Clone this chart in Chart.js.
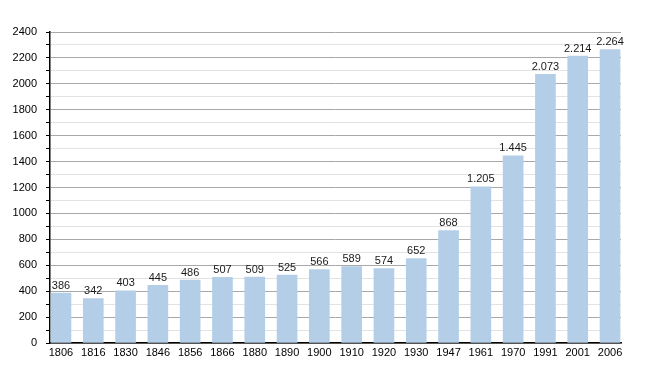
<!DOCTYPE html>
<html>
<head>
<meta charset="utf-8">
<script src="https://cdn.jsdelivr.net/npm/chart.js@4"></script>
<style>
  html, body { margin: 0; padding: 0; background: #fff; }
  #wrap { width: 650px; height: 373px; }
</style>
</head>
<body>
<div id="wrap"><canvas id="popChart" width="650" height="373"></canvas></div>
<script>
var years = ['1806','1816','1830','1846','1856','1866','1880','1890','1900','1910','1920','1930','1947','1961','1970','1991','2001','2006'];
var population = [386, 342, 403, 445, 486, 507, 509, 525, 566, 589, 574, 652, 868, 1205, 1445, 2073, 2214, 2264];
var yTickMax = 2400;
var yTickStep = 100;

function fmt_num(v) {
  // thousands with a dot, like the original
  return String(v).replace(/\B(?=(\d{3})+(?!\d))/g, '.');
}

var points = [];
for (let i = 0; i < years.length; i++) {
  points.push({x: i, y: population[i]});
}

const valueLabels = {
  id: 'valueLabels',
  afterDatasetsDraw(chart) {
    const ctx = chart.ctx;
    const meta = chart.getDatasetMeta(0);
    ctx.save();
    ctx.font = '11px "Liberation Sans", Arial, sans-serif';
    ctx.fillStyle = '#1a1a1a';
    ctx.textAlign = 'center';
    ctx.textBaseline = 'bottom';
    meta.data.forEach(function(bar, i) {
      ctx.fillText(fmt_num(population[i]), bar.x, bar.y - 2);
    });
    ctx.restore();
  }
};

const config = {
  type: 'bar',
  data: {
    datasets: [{
      data: points,
      backgroundColor: 'rgb(180, 206, 232)',
      borderWidth: 0,
      barThickness: 20
    }]
  },
  options: {
    responsive: false,
    animation: false,
    layout: { padding: { top: 32, right: 29, left: 0, bottom: 0 } },
    plugins: { legend: { display: false }, tooltip: { enabled: false } },
    scales: {
      x: {
        type: 'linear',
        min: -0.34,
        max: 17.34,
        offset: false,
        grid: { display: false, drawTicks: false, tickLength: 0 },
        border: { color: '#000', width: 1.5 },
        ticks: {
          stepSize: 1,
          includeBounds: false,
          autoSkip: false,
          maxRotation: 0,
          padding: 3,
          color: '#000',
          font: { family: '"Liberation Sans", Arial, sans-serif', size: 11 },
          callback: function(v) { return Number.isInteger(v) ? years[v] : ''; }
        },
        afterFit: function(scale) { scale.height = 30; }
      },
      y: {
        min: 0,
        max: yTickMax,
        grid: {
          color: function(c) { return c.tick.value % 200 === 0 ? '#a8a8a8' : '#e2e2e2'; },
          tickColor: '#000',
          tickLength: 4
        },
        border: { color: '#000', width: 1.5 },
        ticks: {
          stepSize: yTickStep,
          autoSkip: false,
          padding: 9,
          color: '#000',
          font: { family: '"Liberation Sans", Arial, sans-serif', size: 11 },
          callback: function(v) { return v % 200 === 0 ? String(v) : ''; }
        },
        afterFit: function(scale) { scale.width = 50; }
      }
    }
  },
  plugins: [valueLabels]
};

const popChart = new Chart(document.getElementById('popChart'), config);
</script>
</body>
</html>
